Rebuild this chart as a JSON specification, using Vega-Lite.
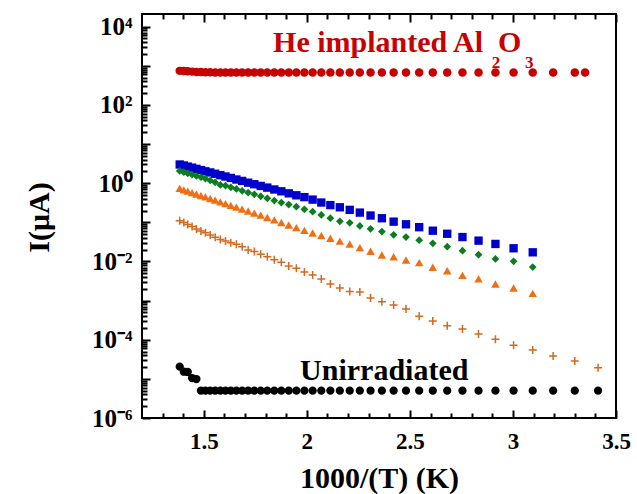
{
  "$schema": "https://vega.github.io/schema/vega-lite/v6.json",
  "width": 474,
  "height": 404,
  "autosize": {"type": "none"},
  "padding": {"left": 142, "top": 14, "right": 21, "bottom": 76},
  "background": "white",
  "config": {
    "view": {"stroke": "black", "strokeWidth": 2},
    "font": "Liberation Serif",
    "axis": {"domain": false, "grid": false, "tickColor": "black", "tickWidth": 2, "labelFont": "Liberation Serif", "labelFontWeight": "bold", "labelColor": "black", "titleFont": "Liberation Serif", "titleFontWeight": "bold", "titleColor": "black", "labelBound": false, "labelFlush": false, "labelOverlap": false}
  },
  "datasets": {
    "pts": [
      {"s":"He","x":1.383,"y":740},{"s":"He","x":1.403,"y":735},{"s":"He","x":1.422,"y":722},{"s":"He","x":1.443,"y":708},{"s":"He","x":1.464,"y":695},{"s":"He","x":1.486,"y":688},{"s":"He","x":1.508,"y":682},{"s":"He","x":1.531,"y":678},{"s":"He","x":1.555,"y":676},{"s":"He","x":1.580,"y":675},{"s":"He","x":1.605,"y":675},{"s":"He","x":1.631,"y":674},{"s":"He","x":1.658,"y":674},{"s":"He","x":1.686,"y":674},{"s":"He","x":1.715,"y":673},{"s":"He","x":1.745,"y":673},{"s":"He","x":1.776,"y":673},{"s":"He","x":1.808,"y":672},{"s":"He","x":1.842,"y":672},{"s":"He","x":1.876,"y":672},{"s":"He","x":1.912,"y":672},{"s":"He","x":1.949,"y":671},{"s":"He","x":1.988,"y":671},{"s":"He","x":2.028,"y":671},{"s":"He","x":2.070,"y":671},{"s":"He","x":2.114,"y":670},{"s":"He","x":2.160,"y":670},{"s":"He","x":2.208,"y":670},{"s":"He","x":2.257,"y":670},{"s":"He","x":2.309,"y":670},{"s":"He","x":2.364,"y":670},{"s":"He","x":2.421,"y":670},{"s":"He","x":2.481,"y":669},{"s":"He","x":2.545,"y":669},{"s":"He","x":2.611,"y":669},{"s":"He","x":2.681,"y":669},{"s":"He","x":2.755,"y":669},{"s":"He","x":2.833,"y":668},{"s":"He","x":2.915,"y":668},{"s":"He","x":3.003,"y":668},{"s":"He","x":3.096,"y":668},{"s":"He","x":3.195,"y":668},{"s":"He","x":3.300,"y":668},{"s":"He","x":3.350,"y":668},
      {"s":"A","x":1.383,"y":3.0},{"s":"A","x":1.403,"y":2.83},{"s":"A","x":1.422,"y":2.65},{"s":"A","x":1.443,"y":2.49},{"s":"A","x":1.464,"y":2.32},{"s":"A","x":1.486,"y":2.16},{"s":"A","x":1.508,"y":2.01},{"s":"A","x":1.531,"y":1.88},{"s":"A","x":1.555,"y":1.74},{"s":"A","x":1.580,"y":1.60},{"s":"A","x":1.605,"y":1.48},{"s":"A","x":1.631,"y":1.36},{"s":"A","x":1.658,"y":1.24},{"s":"A","x":1.686,"y":1.14},{"s":"A","x":1.715,"y":1.03},{"s":"A","x":1.745,"y":0.94},{"s":"A","x":1.776,"y":0.85},{"s":"A","x":1.808,"y":0.77},{"s":"A","x":1.842,"y":0.69},{"s":"A","x":1.876,"y":0.62},{"s":"A","x":1.912,"y":0.55},{"s":"A","x":1.949,"y":0.49},{"s":"A","x":1.988,"y":0.44},{"s":"A","x":2.028,"y":0.38},{"s":"A","x":2.070,"y":0.32},{"s":"A","x":2.114,"y":0.275},{"s":"A","x":2.160,"y":0.242},{"s":"A","x":2.208,"y":0.208},{"s":"A","x":2.257,"y":0.177},{"s":"A","x":2.309,"y":0.149},{"s":"A","x":2.364,"y":0.127},{"s":"A","x":2.421,"y":0.104},{"s":"A","x":2.481,"y":0.089},{"s":"A","x":2.545,"y":0.075},{"s":"A","x":2.611,"y":0.061},{"s":"A","x":2.681,"y":0.051},{"s":"A","x":2.755,"y":0.042},{"s":"A","x":2.833,"y":0.034},{"s":"A","x":2.915,"y":0.028},{"s":"A","x":3.003,"y":0.0217},{"s":"A","x":3.096,"y":0.0171},
      {"s":"B","x":1.383,"y":2.05},{"s":"B","x":1.403,"y":1.91},{"s":"B","x":1.422,"y":1.78},{"s":"B","x":1.443,"y":1.66},{"s":"B","x":1.464,"y":1.53},{"s":"B","x":1.486,"y":1.42},{"s":"B","x":1.508,"y":1.30},{"s":"B","x":1.531,"y":1.17},{"s":"B","x":1.555,"y":1.05},{"s":"B","x":1.580,"y":0.90},{"s":"B","x":1.605,"y":0.87},{"s":"B","x":1.631,"y":0.785},{"s":"B","x":1.658,"y":0.71},{"s":"B","x":1.686,"y":0.64},{"s":"B","x":1.715,"y":0.575},{"s":"B","x":1.745,"y":0.52},{"s":"B","x":1.776,"y":0.46},{"s":"B","x":1.808,"y":0.41},{"s":"B","x":1.842,"y":0.36},{"s":"B","x":1.876,"y":0.32},{"s":"B","x":1.912,"y":0.284},{"s":"B","x":1.949,"y":0.251},{"s":"B","x":1.988,"y":0.215},{"s":"B","x":2.028,"y":0.187},{"s":"B","x":2.070,"y":0.154},{"s":"B","x":2.114,"y":0.127},{"s":"B","x":2.160,"y":0.106},{"s":"B","x":2.208,"y":0.097},{"s":"B","x":2.257,"y":0.081},{"s":"B","x":2.309,"y":0.068},{"s":"B","x":2.364,"y":0.058},{"s":"B","x":2.421,"y":0.048},{"s":"B","x":2.481,"y":0.042},{"s":"B","x":2.545,"y":0.035},{"s":"B","x":2.611,"y":0.029},{"s":"B","x":2.681,"y":0.0238},{"s":"B","x":2.755,"y":0.0188},{"s":"B","x":2.833,"y":0.0149},{"s":"B","x":2.915,"y":0.0116},{"s":"B","x":3.003,"y":0.0101},{"s":"B","x":3.096,"y":0.0072},
      {"s":"C","x":1.383,"y":0.733},{"s":"C","x":1.403,"y":0.675},{"s":"C","x":1.422,"y":0.625},{"s":"C","x":1.443,"y":0.575},{"s":"C","x":1.464,"y":0.530},{"s":"C","x":1.486,"y":0.485},{"s":"C","x":1.508,"y":0.445},{"s":"C","x":1.531,"y":0.405},{"s":"C","x":1.555,"y":0.368},{"s":"C","x":1.580,"y":0.333},{"s":"C","x":1.605,"y":0.301},{"s":"C","x":1.631,"y":0.271},{"s":"C","x":1.658,"y":0.244},{"s":"C","x":1.686,"y":0.218},{"s":"C","x":1.715,"y":0.194},{"s":"C","x":1.745,"y":0.172},{"s":"C","x":1.776,"y":0.152},{"s":"C","x":1.808,"y":0.133},{"s":"C","x":1.842,"y":0.115},{"s":"C","x":1.876,"y":0.099},{"s":"C","x":1.912,"y":0.0855},{"s":"C","x":1.949,"y":0.073},{"s":"C","x":1.988,"y":0.0622},{"s":"C","x":2.028,"y":0.0533},{"s":"C","x":2.070,"y":0.0458},{"s":"C","x":2.114,"y":0.0391},{"s":"C","x":2.160,"y":0.033},{"s":"C","x":2.208,"y":0.0276},{"s":"C","x":2.257,"y":0.0226},{"s":"C","x":2.309,"y":0.0182},{"s":"C","x":2.364,"y":0.0146},{"s":"C","x":2.421,"y":0.0132},{"s":"C","x":2.481,"y":0.0109},{"s":"C","x":2.545,"y":0.0093},{"s":"C","x":2.611,"y":0.0071},{"s":"C","x":2.681,"y":0.0058},{"s":"C","x":2.755,"y":0.0044},{"s":"C","x":2.833,"y":0.0036},{"s":"C","x":2.915,"y":0.00265},{"s":"C","x":3.003,"y":0.0021},{"s":"C","x":3.096,"y":0.00153},
      {"s":"D","x":1.383,"y":0.110},{"s":"D","x":1.403,"y":0.0984},{"s":"D","x":1.422,"y":0.0881},{"s":"D","x":1.443,"y":0.0778},{"s":"D","x":1.464,"y":0.0671},{"s":"D","x":1.486,"y":0.0601},{"s":"D","x":1.508,"y":0.0537},{"s":"D","x":1.531,"y":0.0474},{"s":"D","x":1.555,"y":0.0415},{"s":"D","x":1.580,"y":0.0366},{"s":"D","x":1.605,"y":0.0331},{"s":"D","x":1.631,"y":0.030},{"s":"D","x":1.658,"y":0.0276},{"s":"D","x":1.686,"y":0.0237},{"s":"D","x":1.715,"y":0.0196},{"s":"D","x":1.745,"y":0.0179},{"s":"D","x":1.776,"y":0.0152},{"s":"D","x":1.808,"y":0.0131},{"s":"D","x":1.842,"y":0.0111},{"s":"D","x":1.876,"y":0.0096},{"s":"D","x":1.912,"y":0.0077},{"s":"D","x":1.949,"y":0.0067},{"s":"D","x":1.988,"y":0.0054},{"s":"D","x":2.028,"y":0.0045},{"s":"D","x":2.070,"y":0.00356},{"s":"D","x":2.114,"y":0.00267},{"s":"D","x":2.160,"y":0.0021},{"s":"D","x":2.208,"y":0.0017},{"s":"D","x":2.257,"y":0.00166},{"s":"D","x":2.309,"y":0.00116},{"s":"D","x":2.364,"y":0.00094},{"s":"D","x":2.421,"y":0.00077},{"s":"D","x":2.481,"y":0.00061},{"s":"D","x":2.545,"y":0.0004},{"s":"D","x":2.611,"y":0.0003},{"s":"D","x":2.681,"y":0.000228},{"s":"D","x":2.755,"y":0.000188},{"s":"D","x":2.833,"y":0.00014},{"s":"D","x":2.915,"y":0.000103},{"s":"D","x":3.003,"y":0.000072},{"s":"D","x":3.096,"y":0.0000546},{"s":"D","x":3.195,"y":0.0000384},{"s":"D","x":3.300,"y":0.0000286},{"s":"D","x":3.413,"y":0.0000193},
      {"s":"U","x":1.383,"y":2.05e-5},{"s":"U","x":1.403,"y":1.52e-5},{"s":"U","x":1.422,"y":1.5e-5},{"s":"U","x":1.443,"y":1.05e-5},{"s":"U","x":1.464,"y":9.9e-6},{"s":"U","x":1.486,"y":5e-6},{"s":"U","x":1.508,"y":5e-6},{"s":"U","x":1.531,"y":5e-6},{"s":"U","x":1.555,"y":5e-6},{"s":"U","x":1.580,"y":5e-6},{"s":"U","x":1.605,"y":5e-6},{"s":"U","x":1.631,"y":5e-6},{"s":"U","x":1.658,"y":5e-6},{"s":"U","x":1.686,"y":5e-6},{"s":"U","x":1.715,"y":5e-6},{"s":"U","x":1.745,"y":5e-6},{"s":"U","x":1.776,"y":5e-6},{"s":"U","x":1.808,"y":5e-6},{"s":"U","x":1.842,"y":5e-6},{"s":"U","x":1.876,"y":5e-6},{"s":"U","x":1.912,"y":5e-6},{"s":"U","x":1.949,"y":5e-6},{"s":"U","x":1.988,"y":5e-6},{"s":"U","x":2.028,"y":5e-6},{"s":"U","x":2.070,"y":5e-6},{"s":"U","x":2.114,"y":5e-6},{"s":"U","x":2.160,"y":5e-6},{"s":"U","x":2.208,"y":5e-6},{"s":"U","x":2.257,"y":5e-6},{"s":"U","x":2.309,"y":5e-6},{"s":"U","x":2.364,"y":5e-6},{"s":"U","x":2.421,"y":5e-6},{"s":"U","x":2.481,"y":5e-6},{"s":"U","x":2.545,"y":5e-6},{"s":"U","x":2.611,"y":5e-6},{"s":"U","x":2.681,"y":5e-6},{"s":"U","x":2.755,"y":5e-6},{"s":"U","x":2.833,"y":5e-6},{"s":"U","x":2.915,"y":5e-6},{"s":"U","x":3.003,"y":5e-6},{"s":"U","x":3.096,"y":5e-6},{"s":"U","x":3.195,"y":5e-6},{"s":"U","x":3.300,"y":5e-6},{"s":"U","x":3.413,"y":5e-6}
    ]
  },
  "layer": [
    {
      "data": {"name": "pts"},
      "transform": [{"filter": "datum.s == 'He'"}],
      "mark": {"type": "point", "shape": "circle", "filled": true, "opacity": 1, "color": "#c80000", "size": 72},
      "encoding": {
        "x": {"field": "x", "type": "quantitative", "scale": {"domain": [1.2, 3.5], "nice": false, "zero": false},
          "axis": {"orient": "bottom", "title": "1000/(T) (K)", "ticks": false, "tickSize": 0,
            "values": [1.5, 2, 2.5, 3, 3.5],
            "labelExpr": "format(datum.value, '.2~f')",
            "labelFont": "Liberation Serif", "labelFontWeight": "bold", "labelFontSize": 23, "labelPadding": 12,
            "titleFont": "Liberation Serif", "titleFontWeight": "bold", "titleFontSize": 30, "titleX": 237, "titleY": 69, "titleBaseline": "alphabetic", "titleAlign": "center"}},
        "y": {"field": "y", "type": "quantitative", "scale": {"type": "log", "domain": [1e-6, 21000], "nice": false},
          "axis": {"orient": "left", "title": "I(μA)", "ticks": false, "tickSize": 0,
            "values": [1e-6, 1e-4, 0.01, 1, 100, 10000],
            "labelExpr": "datum.value == 10000 ? '10⁴' : datum.value == 100 ? '10²' : datum.value == 1 ? '10⁰' : datum.value == 0.01 ? '10⁻²' : datum.value == 0.0001 ? '10⁻⁴' : '10⁻⁶'",
            "labelFont": "Liberation Serif", "labelFontWeight": "bold", "labelFontSize": 25, "labelPadding": 10,
            "titleFont": "Liberation Serif", "titleFontWeight": "bold", "titleFontSize": 30, "titleX": -94, "titleY": 203, "titleBaseline": "alphabetic", "titleAlign": "center"}}
      }
    },
    {
      "data": {"name": "pts"},
      "transform": [{"filter": "datum.s == 'A'"}],
      "mark": {"type": "point", "shape": "square", "filled": true, "opacity": 1, "color": "#0000cc", "size": 70},
      "encoding": {
        "x": {"field": "x", "type": "quantitative", "scale": {"domain": [1.2, 3.5], "nice": false, "zero": false},
          "axis": {"orient": "bottom", "title": null, "labels": false, "offset": -8, "tickSize": 8, "values": [1.5, 2, 2.5, 3, 3.5]}},
        "y": {"field": "y", "type": "quantitative", "scale": {"type": "log", "domain": [1e-6, 21000], "nice": false},
          "axis": {"orient": "left", "title": null, "labels": false, "offset": -8, "tickSize": 8,
            "values": [1e-6, 1e-5, 1e-4, 0.001, 0.01, 0.1, 1, 10, 100, 1000, 10000]}}
      }
    },
    {
      "data": {"name": "pts"},
      "transform": [{"filter": "datum.s == 'B'"}],
      "mark": {"type": "point", "shape": "diamond", "filled": true, "opacity": 1, "color": "#0a7d1e", "size": 60},
      "encoding": {
        "x": {"field": "x", "type": "quantitative", "scale": {"domain": [1.2, 3.5], "nice": false, "zero": false},
          "axis": {"orient": "bottom", "title": null, "labels": false, "offset": -5, "tickSize": 5,
            "values": [1.3,1.4,1.6,1.7,1.8,1.9,2.1,2.2,2.3,2.4,2.6,2.7,2.8,2.9,3.1,3.2,3.3,3.4]}},
        "y": {"field": "y", "type": "quantitative", "scale": {"type": "log", "domain": [1e-6, 21000], "nice": false},
          "axis": {"orient": "left", "title": null, "labels": false, "offset": -5, "tickSize": 5,
            "values": [2e-6,3e-6,4e-6,5e-6,6e-6,7e-6,8e-6,9e-6,2e-5,3e-5,4e-5,5e-5,6e-5,7e-5,8e-5,9e-5,2e-4,3e-4,4e-4,5e-4,6e-4,7e-4,8e-4,9e-4,0.002,0.003,0.004,0.005,0.006,0.007,0.008,0.009,0.02,0.03,0.04,0.05,0.06,0.07,0.08,0.09,0.2,0.3,0.4,0.5,0.6,0.7,0.8,0.9,2,3,4,5,6,7,8,9,20,30,40,50,60,70,80,90,200,300,400,500,600,700,800,900,2000,3000,4000,5000,6000,7000,8000,9000]}}
      }
    },
    {
      "data": {"name": "pts"},
      "transform": [{"filter": "datum.s == 'C'"}],
      "mark": {"type": "point", "shape": "triangle-up", "filled": true, "opacity": 1, "color": "#f06e14", "size": 72},
      "encoding": {
        "x": {"field": "x", "type": "quantitative", "scale": {"domain": [1.2, 3.5], "nice": false, "zero": false},
          "axis": {"orient": "top", "title": null, "labels": false, "offset": -8, "tickSize": 8, "values": [1.5, 2, 2.5, 3, 3.5]}},
        "y": {"field": "y", "type": "quantitative", "scale": {"type": "log", "domain": [1e-6, 21000], "nice": false}, "axis": null}
      }
    },
    {
      "data": {"name": "pts"},
      "transform": [{"filter": "datum.s == 'D'"}],
      "mark": {"type": "point", "shape": "M-1,0L1,0M0,-1L0,1", "filled": false, "opacity": 1, "color": "#d2691e", "strokeWidth": 1.5, "size": 64},
      "encoding": {
        "x": {"field": "x", "type": "quantitative", "scale": {"domain": [1.2, 3.5], "nice": false, "zero": false},
          "axis": {"orient": "top", "title": null, "labels": false, "offset": -5, "tickSize": 5,
            "values": [1.3,1.4,1.6,1.7,1.8,1.9,2.1,2.2,2.3,2.4,2.6,2.7,2.8,2.9,3.1,3.2,3.3,3.4]}},
        "y": {"field": "y", "type": "quantitative", "scale": {"type": "log", "domain": [1e-6, 21000], "nice": false}, "axis": null}
      }
    },
    {
      "data": {"name": "pts"},
      "transform": [{"filter": "datum.s == 'U'"}],
      "mark": {"type": "point", "shape": "circle", "filled": true, "opacity": 1, "color": "#000000", "size": 68},
      "encoding": {
        "x": {"field": "x", "type": "quantitative", "scale": {"domain": [1.2, 3.5], "nice": false, "zero": false}, "axis": null},
        "y": {"field": "y", "type": "quantitative", "scale": {"type": "log", "domain": [1e-6, 21000], "nice": false}, "axis": null}
      }
    },
    {
      "data": {"values": [{"label": "He implanted Al", "x": 1.836, "y": 2295}, {"label": "O", "x": 2.928, "y": 2295}]},
      "mark": {"type": "text", "align": "left", "baseline": "alphabetic", "font": "Liberation Serif", "fontWeight": "bold", "fontSize": 30, "color": "#c80000"},
      "encoding": {
        "x": {"field": "x", "type": "quantitative", "scale": {"domain": [1.2, 3.5], "nice": false, "zero": false}, "axis": null},
        "y": {"field": "y", "type": "quantitative", "scale": {"type": "log", "domain": [1e-6, 21000], "nice": false}, "axis": null},
        "text": {"field": "label"}
      }
    },
    {
      "data": {"values": [{"label": "2", "x": 2.918, "y": 895}, {"label": "3", "x": 3.079, "y": 895}]},
      "mark": {"type": "text", "align": "center", "baseline": "alphabetic", "font": "Liberation Serif", "fontWeight": "bold", "fontSize": 17, "color": "#c80000"},
      "encoding": {
        "x": {"field": "x", "type": "quantitative", "scale": {"domain": [1.2, 3.5], "nice": false, "zero": false}, "axis": null},
        "y": {"field": "y", "type": "quantitative", "scale": {"type": "log", "domain": [1e-6, 21000], "nice": false}, "axis": null},
        "text": {"field": "label"}
      }
    },
    {
      "data": {"values": [{"label": "Unirradiated", "x": 1.967, "y": 9.35e-6}]},
      "mark": {"type": "text", "align": "left", "baseline": "alphabetic", "font": "Liberation Serif", "fontWeight": "bold", "fontSize": 30, "color": "#000000"},
      "encoding": {
        "x": {"field": "x", "type": "quantitative", "scale": {"domain": [1.2, 3.5], "nice": false, "zero": false}, "axis": null},
        "y": {"field": "y", "type": "quantitative", "scale": {"type": "log", "domain": [1e-6, 21000], "nice": false}, "axis": null},
        "text": {"field": "label"}
      }
    }
  ],
  "resolve": {"axis": {"x": "independent", "y": "independent"}}
}
